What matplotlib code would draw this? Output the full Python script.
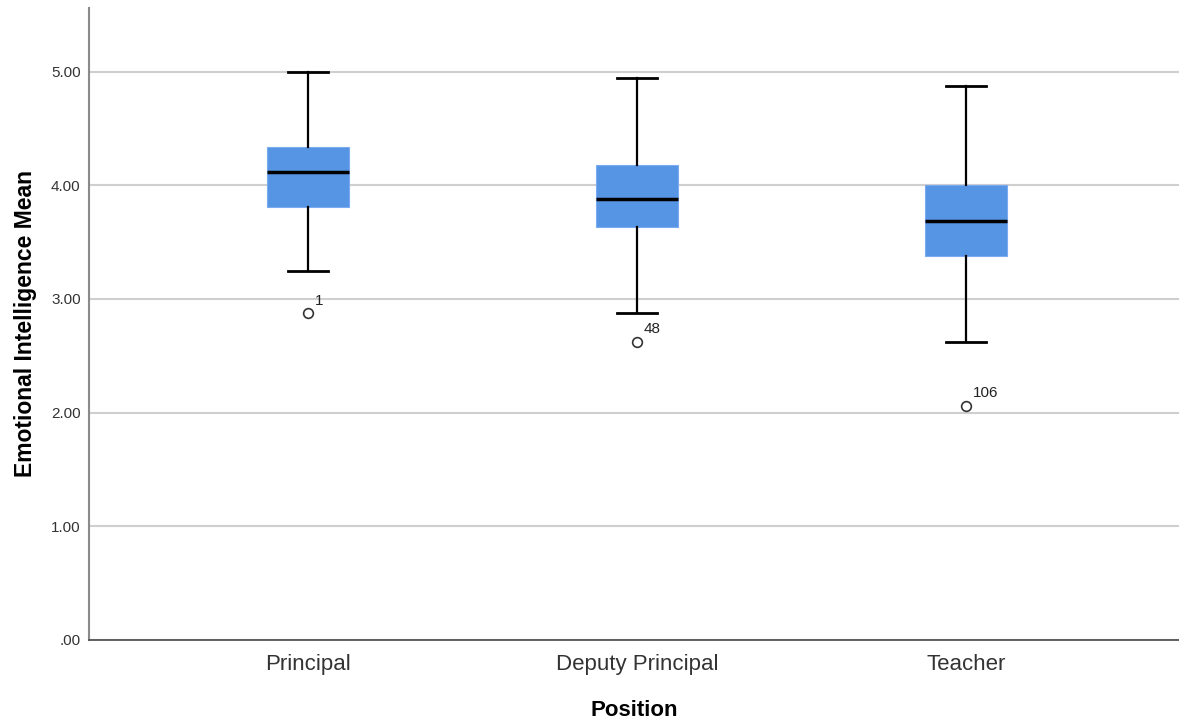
import matplotlib
matplotlib.use('Agg')
import matplotlib.pyplot as plt


positions = ['Principal', 'Deputy Principal', 'Teacher']
whisker_low = [3.25, 2.875, 2.625]
q1 = [3.81, 3.63, 3.375]
median = [4.12, 3.875, 3.69]
q3 = [4.34, 4.18, 4.00]
whisker_high = [5.00, 4.94, 4.875]
outliers = [[2.875], [2.625], [2.06]]
outlier_ids = ['1', '48', '106']
y_ticks = [0, 1, 2, 3, 4, 5]
y_tick_labels = ['.00', '1.00', '2.00', '3.00', '4.00', '5.00']

BOX_COLOR = '#5595e4'

plt.rcParams['font.family'] = ['Liberation Sans', 'DejaVu Sans']

stats = []
for i in range(len(positions)):
	stats.append({'label': positions[i], 'whislo': whisker_low[i], 'q1': q1[i],
		'med': median[i], 'q3': q3[i], 'whishi': whisker_high[i], 'fliers': outliers[i]})

fig = plt.figure(figsize=(11.79, 7.22), dpi=100)
ax = fig.add_axes([0.0755, 0.1136, 0.9245, 0.8754])

xs = [1, 2, 3]
ax.bxp(stats, positions=xs, widths=0.25, patch_artist=True, showfliers=True,
	boxprops=dict(facecolor=BOX_COLOR, edgecolor='#7aaaf0', linewidth=0.8),
	medianprops=dict(color='black', linewidth=2.5),
	whiskerprops=dict(color='black', linewidth=1.6),
	capprops=dict(color='black', linewidth=2.0),
	capwidths=0.12,
	flierprops=dict(marker='o', markerfacecolor='white', markeredgecolor='#333333',
		markersize=7, markeredgewidth=1.2),
	zorder=3)

# Case numbers next to the outliers
for x, vals, lab in zip(xs, outliers, outlier_ids):
	ax.annotate(lab, (x, vals[0]), xytext=(5, 4), textcoords='offset points',
		fontsize=11, color='#222222', ha='left', va='bottom')

ax.set_xlim(0.334, 3.647)
ax.set_ylim(0, 5.56)
ax.set_yticks(y_ticks)
ax.set_yticklabels(y_tick_labels)
ax.set_xticks(xs)
ax.set_xticklabels(positions)
ax.tick_params(axis='y', length=0, labelsize=11, colors='#333333', pad=6)
ax.tick_params(axis='x', length=0, labelsize=16, colors='#333333', pad=10)

ax.yaxis.grid(True, color='#cfcfcf', linewidth=1.5, zorder=0)
ax.set_axisbelow(True)

for side in ['top', 'right']:
	ax.spines[side].set_visible(False)
ax.spines['left'].set_color('#8a8a8a')
ax.spines['left'].set_linewidth(1.5)
ax.spines['bottom'].set_color('#555555')
ax.spines['bottom'].set_linewidth(1.3)

ax.set_xlabel('Position', fontsize=16, fontweight='bold', labelpad=18)
ax.set_ylabel('Emotional Intelligence Mean', fontsize=16.5, fontweight='bold', labelpad=10)

fig.savefig('out.png', dpi=100)
